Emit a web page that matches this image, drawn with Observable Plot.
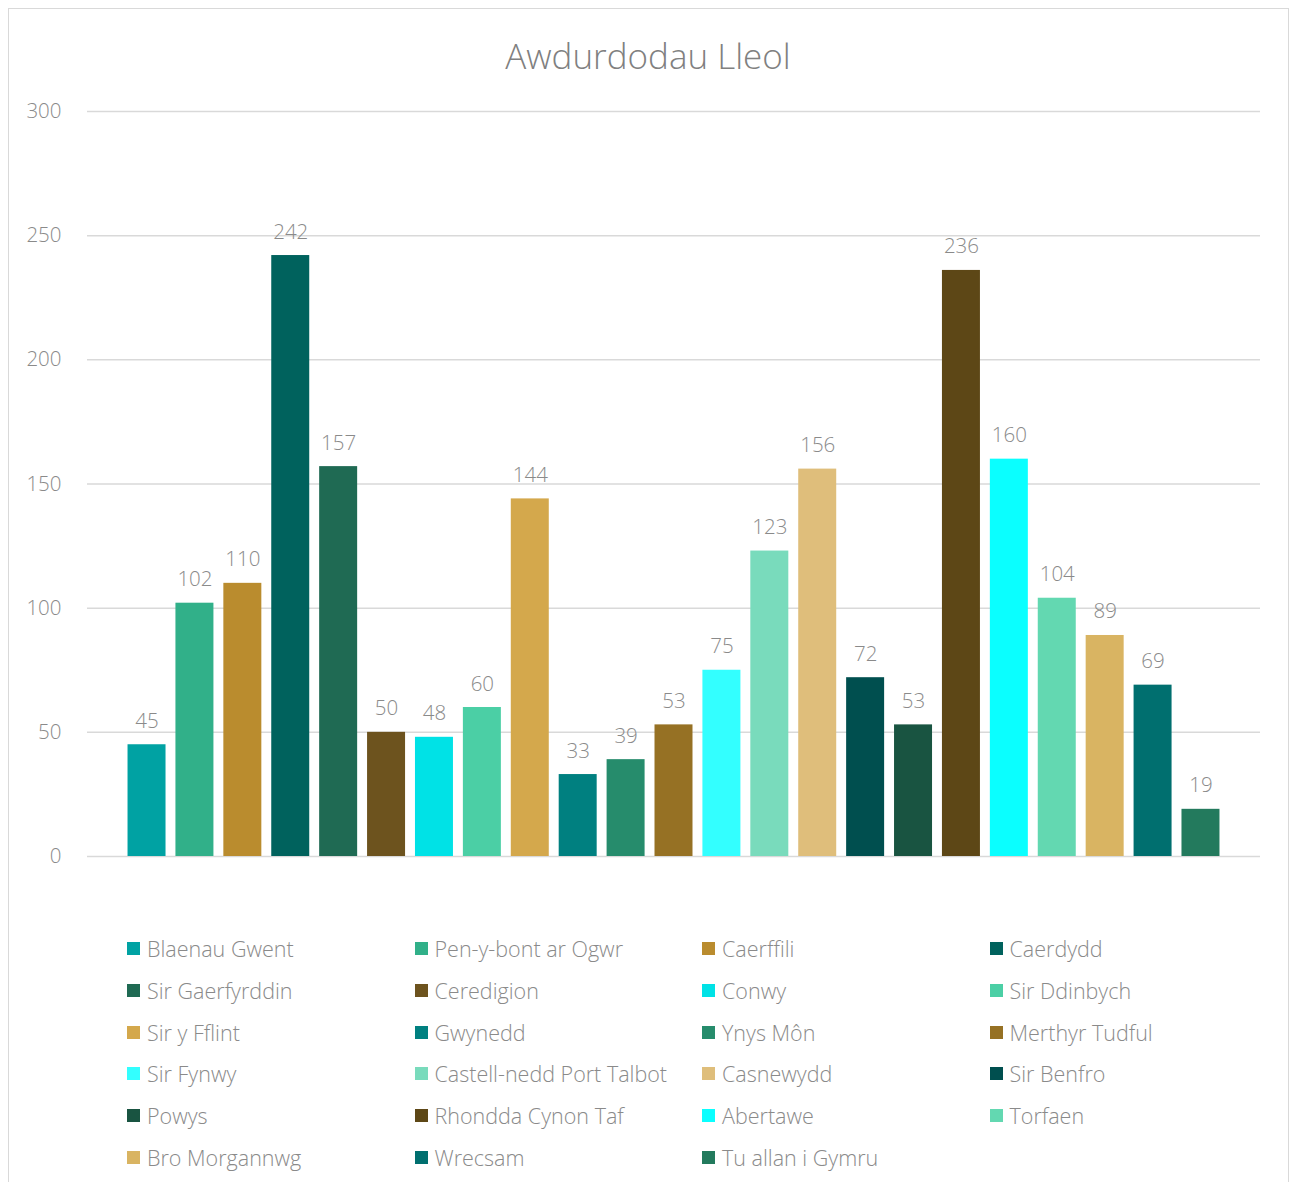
<!DOCTYPE html>
<html>
<head>
<meta charset="utf-8">
<script src="https://cdn.jsdelivr.net/npm/d3@7"></script>
<script src="https://cdn.jsdelivr.net/npm/@observablehq/plot@0.6"></script>
<style>
  html, body { margin: 0; padding: 0; background: #fff; }
  body { width: 1290px; height: 1182px; position: relative; overflow: hidden;
         font-family: "Segoe UI", "Open Sans", "Noto Sans", sans-serif; font-weight: 300; }
  #frame { position: absolute; left: 8px; top: 8px; width: 1281px; height: 1200px;
           border: 1.5px solid #d9d9d9; box-sizing: border-box; }
  #title { position: absolute; left: 8px; width: 1280px; top: 32px; text-align: center;
           font-size: 35px; color: #808080; line-height: 48px; }
  #chart { position: absolute; left: 0; top: 0; }
  #legend { position: absolute; left: 127px; top: 928px; display: grid;
            grid-template-columns: repeat(4, 287.5px); grid-auto-rows: 41.7px; }
  .item { display: flex; align-items: center; font-size: 21.5px; color: #8a8a8a; white-space: nowrap; }
  .sw { width: 13px; height: 13px; margin-right: 7px; flex: none; }
</style>
</head>
<body>
<div id="frame"></div>
<div id="title">Awdurdodau Lleol</div>
<div id="chart"></div>
<div id="legend"></div>
<script>
const names = ["Blaenau Gwent","Pen-y-bont ar Ogwr","Caerffili","Caerdydd","Sir Gaerfyrddin","Ceredigion","Conwy","Sir Ddinbych","Sir y Fflint","Gwynedd","Ynys Môn","Merthyr Tudful","Sir Fynwy","Castell-nedd Port Talbot","Casnewydd","Sir Benfro","Powys","Rhondda Cynon Taf","Abertawe","Torfaen","Bro Morgannwg","Wrecsam","Tu allan i Gymru"];
const values = [45,102,110,242,157,50,48,60,144,33,39,53,75,123,156,72,53,236,160,104,89,69,19];
const colors = ["#00A2A3","#31B089","#BA8C2E","#00625D","#1F6A53","#6D531E","#00E2E6","#4BCFA5","#D4A84C","#008080","#268C6C","#967124","#33FFFF","#79DBBC","#DFBE7B","#004F4F","#195441","#5D4716","#0AFFFF","#63D8B1","#D9B462","#006F6F","#237A5D"];
const yTicks = [0,50,100,150,200,250,300];

const data = names.map((n,i) => ({name: n, value: values[i]}));

const chart = Plot.plot({
  width: 1290,
  height: 900,
  marginLeft: 87,
  marginRight: 30,
  marginTop: 111,
  marginBottom: 44,
  style: {fontFamily: '"Segoe UI", "Open Sans", "Noto Sans", sans-serif', fontWeight: 300, fontSize: "20px", color: "#8a8a8a", background: "transparent"},
  x: {domain: names, paddingInner: 0.207, paddingOuter: 0.846, round: false, axis: null},
  y: {domain: [0,300], ticks: yTicks, tickSize: 0, tickPadding: 26, label: null, grid: false},
  color: {domain: names, range: colors},
  marks: [
    Plot.gridY(yTicks, {stroke: "#d9d9d9", strokeOpacity: 1, strokeWidth: 1.5}),
    Plot.axisY(yTicks, {tickSize: 0, tickPadding: 26, fontSize: 20.5, label: null}),
    Plot.barY(data, {x: "name", y: "value", fill: "name"}),
    Plot.text(data, {x: "name", y: "value", text: d => String(d.value), lineAnchor: "bottom", dy: -17, fontSize: 20.5, fill: "#8a8a8a"})
  ]
});
document.getElementById("chart").appendChild(chart);

const legend = document.getElementById("legend");
names.forEach((n,i) => {
  const it = document.createElement("div");
  it.className = "item";
  const sw = document.createElement("span");
  sw.className = "sw";
  sw.style.background = colors[i];
  const t = document.createElement("span");
  t.textContent = n;
  it.appendChild(sw); it.appendChild(t);
  legend.appendChild(it);
});
</script>
</body>
</html>
